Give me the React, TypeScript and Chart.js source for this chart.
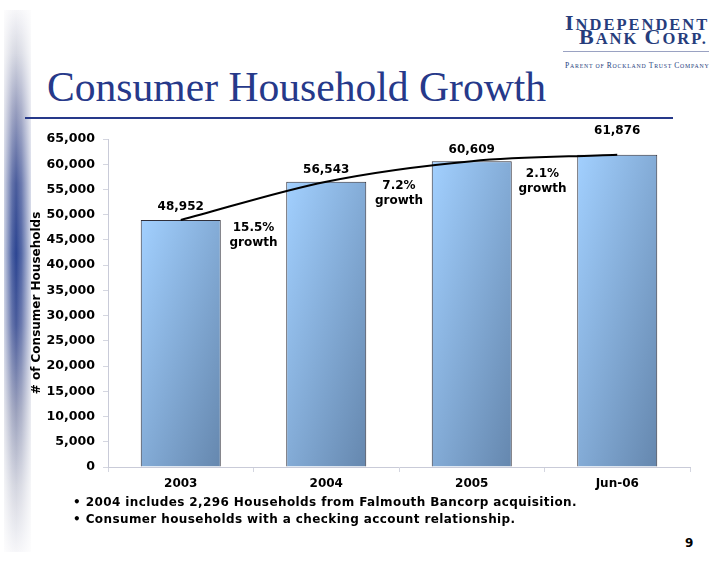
import React, { useEffect, useRef } from "react";
import { Chart, registerables } from "chart.js";

Chart.register(...registerables);

// ---- data ----
const categories = ["2003", "2004", "2005", "Jun-06"];
const households = [48952, 56543, 60609, 61876];
const growthLabels = ["15.5%", "7.2%", "2.1%"];
const growthWord = "growth";
const yMin = 0;
const yMax = 65000;
const yStep = 5000;
const titleText = "Consumer Household Growth";
const yAxisTitle = "# of Consumer Households";
const footnotes = [
  "2004 includes 2,296 Households from Falmouth Bancorp acquisition.",
  "Consumer households with a checking account relationship.",
];
const pageNumber = "9";

// ---- styling (not data) ----
const FONT = "'DejaVu Sans', Verdana, sans-serif";
const NAVY = "#26398a";
const valueLabelLift = [13, 12, 11, 24];
const growthLabelDrop = [8, 4, 13];
const growthLabelShift = [0, 0, -2];
const BAR_PCT = 0.55;

const fmt = (v: number) => v.toLocaleString("en-US");

const annotatePlugin = {
  id: "annotate",
  afterDatasetsDraw(chart: any) {
    const ctx = chart.ctx;
    const xs = chart.scales.x;
    const ys = chart.scales.y;
    ctx.save();
    ctx.font = `bold 12px ${FONT}`;
    ctx.fillStyle = "#000";
    ctx.textAlign = "center";
    ctx.textBaseline = "middle";
    households.forEach((v, i) => {
      const x = xs.getPixelForValue(i);
      const y = ys.getPixelForValue(v) - valueLabelLift[i];
      ctx.fillText(fmt(v), x, y);
    });
    growthLabels.forEach((g, i) => {
      const x = (xs.getPixelForValue(i) + xs.getPixelForValue(i + 1)) / 2 + growthLabelShift[i];
      const y = ys.getPixelForValue(households[i]) + growthLabelDrop[i];
      ctx.fillText(g, x, y);
      ctx.fillText(growthWord, x, y + 15);
    });
    ctx.restore();
  },
};

function barFill(c: any) {
  const chart = c.chart;
  const xs = chart.scales?.x;
  const ys = chart.scales?.y;
  if (!xs || !ys || c.type !== "data" || !chart.chartArea) return "#84acd8";
  const i = c.dataIndex;
  const step = xs.getPixelForValue(1) - xs.getPixelForValue(0);
  const w = step * BAR_PCT;
  const left = xs.getPixelForValue(i) - w / 2;
  const top = ys.getPixelForValue(households[i]);
  const h = ys.getPixelForValue(0) - top;
  if (!isFinite(left) || !isFinite(top) || h <= 0) return "#84acd8";
  const s = (2 * w * h) / (h * h + w * w);
  const g = chart.ctx.createLinearGradient(left, top, left + s * h, top + s * w);
  g.addColorStop(0, "#a2d0ff");
  g.addColorStop(1, "#6587ae");
  return g;
}

function ChartCanvas() {
  const ref = useRef<HTMLCanvasElement | null>(null);
  useEffect(() => {
    if (!ref.current) return;
    const chart = new Chart(ref.current, {
      type: "bar",
      data: {
        labels: categories,
        datasets: [
          {
            type: "line" as any,
            data: households,
            borderColor: "#000",
            borderWidth: 2,
            pointRadius: 0,
            fill: false,
            tension: 0.4,
            cubicInterpolationMode: "monotone",
            order: 0,
          } as any,
          {
            type: "bar",
            data: households,
            backgroundColor: barFill as any,
            borderColor: "#2f2f3a",
            borderWidth: 1,
            barPercentage: BAR_PCT,
            categoryPercentage: 1,
            order: 1,
          },
        ],
      },
      options: {
        responsive: false,
        animation: false,
        layout: { padding: { top: 24, right: 10, left: 0, bottom: 0 } },
        plugins: { legend: { display: false }, tooltip: { enabled: false } },
        scales: {
          x: {
            type: "category",
            offset: true,
            grid: { display: true, drawOnChartArea: false, tickLength: 5, color: "#d4d6e0", offset: true },
            border: { color: "#c9cbd8" },
            ticks: { color: "#000", font: { family: FONT, size: 12, weight: "bold" }, padding: 5 },
            afterFit: (s: any) => {
              s.height = 33;
            },
          } as any,
          y: {
            min: yMin,
            max: yMax,
            ticks: {
              stepSize: yStep,
              color: "#000",
              font: { family: FONT, size: 12.6, weight: "bold" },
              padding: 8,
              callback: (v: any) => fmt(Number(v)),
            },
            grid: { display: true, drawOnChartArea: false, tickLength: 5, color: "#d4d6e0" },
            border: { color: "#c9cbd8" },
            title: {
              display: true,
              text: yAxisTitle,
              color: "#000",
              font: { family: FONT, size: 12, weight: "bold" },
              padding: { top: 10, bottom: 0 },
            },
            afterFit: (s: any) => {
              s.width = 88;
            },
          } as any,
        },
      },
      plugins: [annotatePlugin],
    });
    return () => chart.destroy();
  }, []);
  return (
    <canvas
      ref={ref}
      width={680}
      height={385}
      style={{ position: "absolute", left: 20, top: 115, width: 680, height: 385, display: "block" }}
    />
  );
}

export default function App() {
  const logoColor = "#263d7c";
  const logoFont = "'Liberation Serif', serif";
  return (
    <div
      style={{
        position: "absolute",
        left: 0,
        top: 0,
        width: 720,
        height: 566,
        background: "#fff",
        overflow: "hidden",
      }}
    >
      {/* left decorative stripe */}
      <div
        style={{
          position: "absolute",
          left: 4,
          top: 10,
          width: 27,
          height: 542,
          background:
            "linear-gradient(to right, rgba(255,255,255,0.75) 0%, rgba(255,255,255,0.15) 30%, rgba(255,255,255,0) 45%, rgba(255,255,255,0.2) 65%, rgba(255,255,255,0.8) 100%), linear-gradient(to bottom, #f6f6f9 0%, #d6d8e2 8%, #9aa0c0 18%, #4a5c9c 32%, #2c4592 45%, #4a5c9c 58%, #9aa0bc 74%, #d4d6e0 88%, #f6f6f9 100%)",
        }}
      />
      {/* logo */}
      <div
        style={{
          position: "absolute",
          left: 565,
          top: 12,
          fontFamily: logoFont,
          fontWeight: "bold",
          color: logoColor,
          lineHeight: "22px",
          whiteSpace: "nowrap",
          letterSpacing: 2,
        }}
      >
        <span style={{ fontSize: 22 }}>I</span>
        <span style={{ fontSize: 16.5 }}>NDEPENDENT</span>
      </div>
      <div
        style={{
          position: "absolute",
          left: 579,
          top: 26,
          fontFamily: logoFont,
          fontWeight: "bold",
          color: logoColor,
          lineHeight: "22px",
          whiteSpace: "nowrap",
          letterSpacing: 2,
        }}
      >
        <span style={{ fontSize: 22 }}>B</span>
        <span style={{ fontSize: 16.5 }}>ANK </span>
        <span style={{ fontSize: 22 }}>C</span>
        <span style={{ fontSize: 16.5 }}>ORP.</span>
      </div>
      <div style={{ position: "absolute", left: 563, top: 51, width: 146, height: 1, background: "#9aa2c2" }} />
      <div
        style={{
          position: "absolute",
          left: 565,
          top: 58,
          fontFamily: logoFont,
          color: logoColor,
          lineHeight: "9px",
          whiteSpace: "nowrap",
          letterSpacing: 0.8,
        }}
      >
        <span style={{ fontSize: 7.5 }}>P</span>
        <span style={{ fontSize: 5.8 }}>ARENT OF </span>
        <span style={{ fontSize: 7.5 }}>R</span>
        <span style={{ fontSize: 5.8 }}>OCKLAND </span>
        <span style={{ fontSize: 7.5 }}>T</span>
        <span style={{ fontSize: 5.8 }}>RUST </span>
        <span style={{ fontSize: 7.5 }}>C</span>
        <span style={{ fontSize: 5.8 }}>OMPANY</span>
      </div>
      {/* title */}
      <div
        style={{
          position: "absolute",
          left: 47,
          top: 66,
          fontFamily: "'Liberation Serif', serif",
          fontSize: 41.6,
          lineHeight: "42px",
          color: NAVY,
          whiteSpace: "nowrap",
        }}
      >
        {titleText}
      </div>
      <div style={{ position: "absolute", left: 25, top: 117, width: 648, height: 2, background: NAVY }} />
      <ChartCanvas />
      {/* footnotes */}
      <div
        style={{
          position: "absolute",
          left: 73,
          top: 494,
          fontFamily: FONT,
          fontWeight: "bold",
          fontSize: 12,
          lineHeight: "17px",
          letterSpacing: 0.4,
          color: "#000",
          whiteSpace: "nowrap",
        }}
      >
        {footnotes.map((f, i) => (
          <div key={i}>{"\u2022 " + f}</div>
        ))}
      </div>
      <div
        style={{
          position: "absolute",
          left: 685,
          top: 535,
          fontFamily: FONT,
          fontWeight: "bold",
          fontSize: 12,
          lineHeight: "16px",
          color: "#000",
        }}
      >
        {pageNumber}
      </div>
    </div>
  );
}
